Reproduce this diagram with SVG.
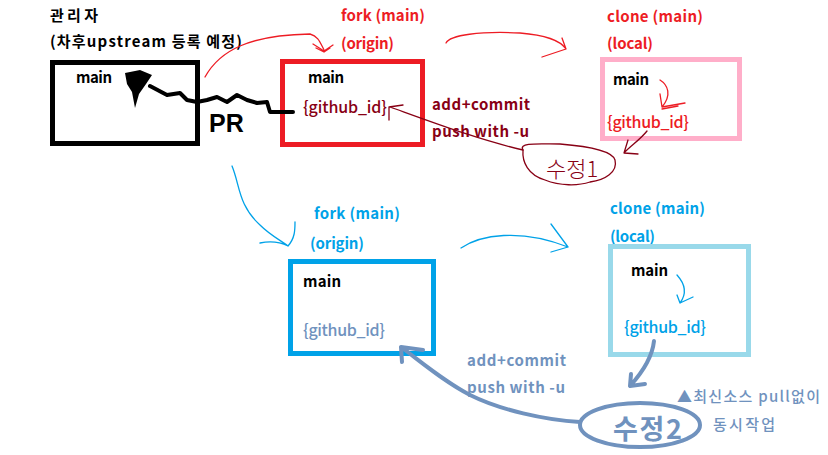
<svg xmlns="http://www.w3.org/2000/svg" width="828" height="455" viewBox="0 0 828 455">
<style>
text{font-family:"Malgun Gothic","Noto Sans CJK KR","Noto Sans",sans-serif;font-size:15px;font-weight:bold}
.reg{font-weight:500}
.gid{font-size:16px}
.box{fill:none;stroke-width:5}
.thin{fill:none;stroke-width:1.3;stroke-linecap:round;stroke-linejoin:round}
.thick{fill:none;stroke-width:4;stroke-linecap:round;stroke-linejoin:round}
.red{fill:#ED1C24}.dred{fill:#880015}.blue{fill:#00A2E8}.steel{fill:#7092BE}.blk{fill:#000}
</style>
<rect width="828" height="455" fill="#fff"/>

<g id="admin">
<text x="50" y="21" class="blk" textLength="48" lengthAdjust="spacing">관리자</text>
<text x="50" y="47" class="blk" textLength="192" lengthAdjust="spacing">(차후upstream 등록 예정)</text>
<rect x="52.5" y="62.5" width="145" height="81" class="box" stroke="#000"/>
<text x="76" y="83" class="blk" textLength="36" lengthAdjust="spacing">main</text>
</g>

<g id="fork-red">
<text x="341" y="21" class="red" textLength="84" lengthAdjust="spacing">fork (main)</text>
<text x="341" y="49" class="red" textLength="53" lengthAdjust="spacing">(origin)</text>
<rect x="282.5" y="61.5" width="140" height="83" class="box" stroke="#ED1C24"/>
<text x="308" y="83" class="blk" textLength="36" lengthAdjust="spacing">main</text>
<text x="303" y="113" class="dred reg gid" textLength="84" lengthAdjust="spacing">{github_id}</text>
</g>

<g id="clone-red">
<text x="607" y="22" class="red" textLength="96" lengthAdjust="spacing">clone (main)</text>
<text x="607" y="49" class="red" textLength="46" lengthAdjust="spacing">(local)</text>
<rect x="602.5" y="59.5" width="137" height="79" class="box" stroke="#FFAEC9"/>
<text x="613" y="85" class="blk" textLength="36" lengthAdjust="spacing">main</text>
<text x="607" y="128" class="red reg gid" textLength="82" lengthAdjust="spacing">{github_id}</text>
</g>

<g id="edit1">
<text x="432" y="110" class="dred" textLength="98" lengthAdjust="spacing">add+commit</text>
<text x="432" y="137" class="dred" textLength="97" lengthAdjust="spacing">push with -u</text>
<path d="M523,150 C518,142 540,144 560,144 C585,146 612,150 615,160 C618,172 605,180 590,182 C578,186 560,186 545,180 C528,175 522,162 523,150 Z" class="thin" stroke="#880015"/>
<text x="546" y="177" class="dred" style="font-size:22px;font-family:'Noto Sans CJK KR',sans-serif;font-weight:300">수정1</text>
</g>

<g id="fork-blue">
<text x="314" y="219" class="blue" textLength="86" lengthAdjust="spacing">fork (main)</text>
<text x="310" y="249" class="blue" textLength="54" lengthAdjust="spacing">(origin)</text>
<rect x="290.5" y="261.5" width="143" height="92" class="box" stroke="#00A2E8"/>
<text x="303" y="287" class="blk" textLength="38" lengthAdjust="spacing">main</text>
<text x="303" y="336" class="steel reg gid" textLength="82" lengthAdjust="spacing">{github_id}</text>
</g>

<g id="clone-blue">
<text x="610" y="214" class="blue" textLength="95" lengthAdjust="spacing">clone (main)</text>
<text x="610" y="242" class="blue" textLength="45" lengthAdjust="spacing">(local)</text>
<rect x="610.5" y="246.5" width="138" height="108" class="box" stroke="#99D9EA"/>
<text x="631" y="276" class="blk" textLength="37" lengthAdjust="spacing">main</text>
<text x="624" y="333" class="blue reg gid" textLength="82" lengthAdjust="spacing">{github_id}</text>
</g>

<g id="edit2">
<text x="467" y="366" class="steel" textLength="99" lengthAdjust="spacing">add+commit</text>
<text x="467" y="393" class="steel" textLength="98" lengthAdjust="spacing">push with -u</text>
<ellipse cx="640" cy="425" rx="60" ry="22" class="thick" stroke="#7092BE"/>
<text x="613" y="439" class="steel" textLength="69" lengthAdjust="spacing" style="font-size:27px">수정2</text>
<text x="677" y="402" class="steel reg" textLength="143" lengthAdjust="spacing">▲최신소스 pull없이</text>
<text x="713" y="430" class="steel reg" textLength="62" lengthAdjust="spacing">동시작업</text>
</g>

<g id="connectors">
<!-- PR scribble -->
<polygon points="125,73 140,70 152,75 146,84 139,94 135,108 132,92 127,84" fill="#000"/>
<polyline points="150,86 167,95 180,93 187,100 197,102 207,100 217,97 227,102 237,95 247,100 257,103 267,102 270,112 293,112" class="thick" stroke="#000"/>
<text x="209" y="132" class="blk" style="font-size:25px;font-family:'Liberation Sans',sans-serif;font-weight:bold">PR</text>
<!-- red arcs -->
<path d="M205,77 C220,50 250,35 310,34 C318,36 320,42 324,50" class="thin" stroke="#ED1C24"/>
<path d="M313,44 L324,51 L333,45 M316,48 L324,52 L330,48" class="thin" stroke="#ED1C24"/>
<path d="M446,43 C450,35 480,31 520,33 C545,35 560,40 566,49 L542,57 M566,49 L562,38" class="thin" stroke="#ED1C24"/>
<path d="M660,80 C668,85 672,95 662,107 M662,107 L660,94 M662,107 L685,103 M662,109 L678,106" class="thin" stroke="#ED1C24"/>
<!-- dark red edit1 connectors -->
<path d="M647,131 C640,140 630,146 624,153 L638,154 M624,153 L628,140" class="thin" stroke="#880015"/>
<path d="M523,150 C480,140 440,125 390,107 M389,107 L389,120 M389,107 L403,105" class="thin" stroke="#880015"/>
<!-- blue arcs -->
<path d="M232,166 C240,185 238,205 260,225 C270,235 280,240 288,246 M288,246 C295,238 295,230 295,222 M288,246 C280,242 270,241 260,243" class="thin" stroke="#00A2E8"/>
<path d="M461,248 C480,235 520,228 568,247 M568,247 L551,224 M568,247 L551,252" class="thin" stroke="#00A2E8"/>
<path d="M677,275 C686,285 686,295 680,303 M680,303 L677,295 M680,303 L693,297" class="thin" stroke="#00A2E8"/>
<!-- steel arrows -->
<path d="M654,341 C652,360 640,375 630,386 M630,386 L631,374 M630,386 L645,384" class="thick" stroke="#7092BE"/>
<path d="M580,422 C545,420 500,410 470,395 C445,382 425,365 401,347 M401,347 L423,350 M401,347 L402,362" class="thick" stroke="#7092BE"/>
</g>
</svg>
